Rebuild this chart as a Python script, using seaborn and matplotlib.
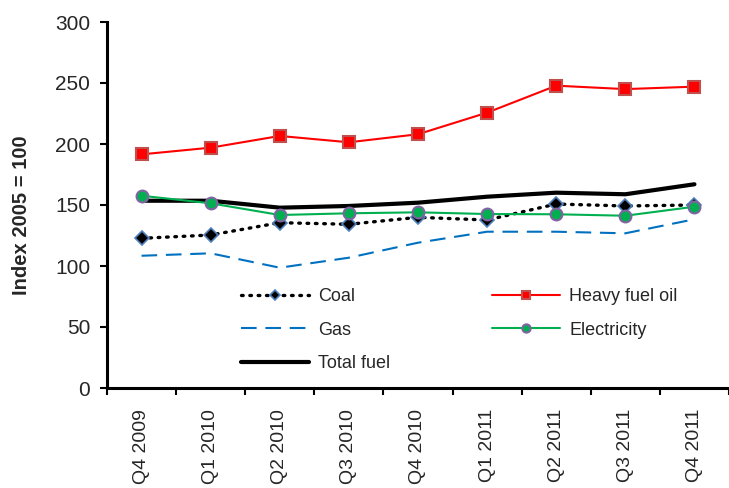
import matplotlib
matplotlib.use("Agg")
import matplotlib.pyplot as plt
import seaborn as sns
import pandas as pd

quarters = ["Q4 2009", "Q1 2010", "Q2 2010", "Q3 2010", "Q4 2010",
            "Q1 2011", "Q2 2011", "Q3 2011", "Q4 2011"]
coal = [122.7, 125.4, 135.5, 134.2, 139.9, 137.7, 150.8, 149.2, 150.0]
heavy_fuel_oil = [191.5, 197.0, 206.6, 201.4, 208.0, 225.7, 247.8, 245.0, 247.0]
gas = [108.4, 110.4, 98.6, 106.8, 119.1, 128.1, 128.1, 126.8, 138.3]
electricity = [157.6, 151.4, 141.8, 143.2, 144.0, 142.6, 142.4, 141.2, 148.6]
total_fuel = [153.5, 153.5, 147.8, 149.2, 151.9, 156.8, 160.1, 158.8, 167.0]

sns.set_style("white")
plt.rcParams['font.family'] = ['Liberation Sans', 'DejaVu Sans']

fig = plt.figure(figsize=(7.29, 4.88), dpi=100)
ax = fig.add_axes([107 / 729, 1 - 388 / 488, 1 - 107 / 729, 366 / 488])

df = pd.DataFrame({"quarter": quarters, "Coal": coal, "Heavy fuel oil": heavy_fuel_oil,
                   "Gas": gas, "Electricity": electricity, "Total fuel": total_fuel})

# series styles (line colour, linestyle, width, marker, face, edge, size)
styles = {
    "Coal": dict(color="black", linestyle=(0, (0.5, 2.0)), linewidth=2.4, marker="D",
                 markerfacecolor="black", markeredgecolor="#4F81BD", markersize=7,
                 markeredgewidth=1.2, dash_capstyle="round"),
    "Gas": dict(color="#0070C0", linestyle=(0, (7.5, 4.2)), linewidth=1.5, marker=None),
    "Total fuel": dict(color="black", linestyle="-", linewidth=3, marker=None),
    "Heavy fuel oil": dict(color="#FF0000", linestyle="-", linewidth=1.5, marker="s",
                           markerfacecolor="#FF0000", markeredgecolor="#C0504D",
                           markersize=8, markeredgewidth=1.5),
    "Electricity": dict(color="#00B050", linestyle="-", linewidth=1.5, marker="o",
                        markerfacecolor="#00B050", markeredgecolor="#8064A2",
                        markersize=8.5, markeredgewidth=1.5),
}

for name in ["Coal", "Gas", "Total fuel", "Heavy fuel oil", "Electricity"]:
    sns.lineplot(data=df, x="quarter", y=name, ax=ax, label=name, sort=False, **styles[name])

ax.set_xlim(-0.5, 8.5)
ax.set_ylim(0, 300)
ax.set_yticks(range(0, 301, 50))
ax.set_xticks(range(len(quarters)))
ax.set_xticklabels(quarters, rotation=90, fontsize=14)
ax.set_xticks([i - 0.5 for i in range(len(quarters) + 1)], minor=True)
ax.tick_params(axis="x", which="major", length=0, pad=15)
ax.tick_params(axis="x", which="minor", length=5, width=1.5, direction="out", color="black")
ax.tick_params(axis="y", length=5, width=1.5, direction="out", color="black",
               labelsize=15, pad=7)
ax.xaxis.set_ticks_position("bottom")
ax.yaxis.set_ticks_position("left")

ax.set_xlabel("")
ax.set_ylabel("Index 2005 = 100", fontsize=14.5, fontweight="bold")
ax.yaxis.set_label_coords(-0.122, 0.473)

sns.despine(ax=ax)
for s in ["left", "bottom"]:
    ax.spines[s].set_linewidth(2.2)
    ax.spines[s].set_color("black")

ax.legend(ncol=2, frameon=False, fontsize=13, handlelength=3.8, handletextpad=0.5,
          columnspacing=5.6, labelspacing=0.9, markerscale=0.7,
          loc="upper left", bbox_to_anchor=(0.215, 0.272), borderaxespad=0, borderpad=0)

plt.savefig("out.png", dpi=100)
